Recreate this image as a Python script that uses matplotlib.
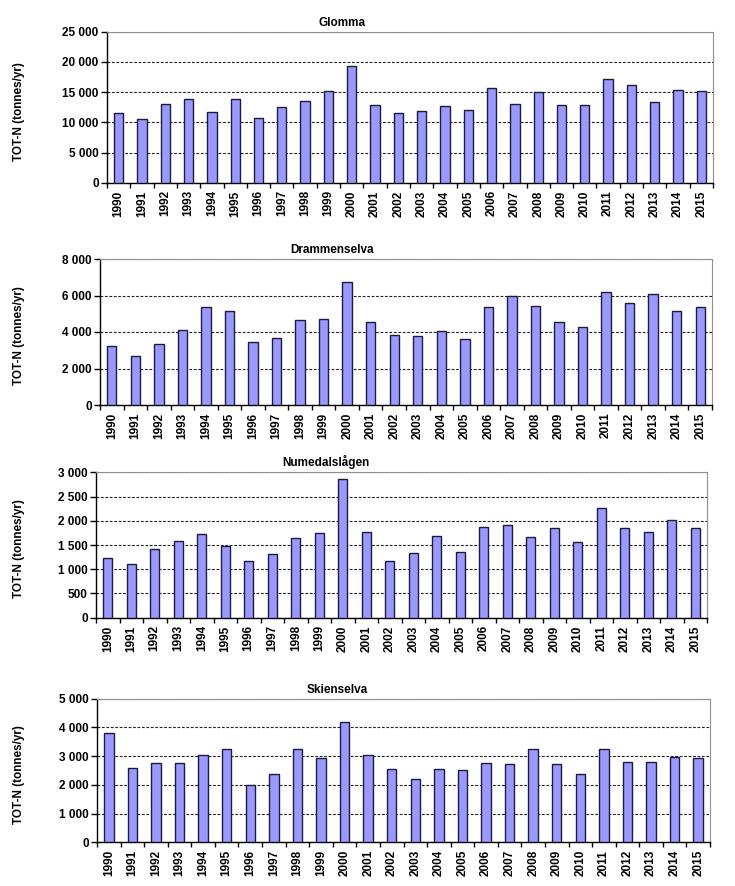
import numpy as np
import matplotlib
matplotlib.use("Agg")
import matplotlib.pyplot as plt
from matplotlib.ticker import FuncFormatter, MultipleLocator

plt.rcParams['font.family'] = ['Liberation Sans', 'DejaVu Sans']

years = [str(y) for y in range(1990, 2016)]

glomma = [11480, 10490, 12970, 13850, 11640, 13850, 10650, 12530, 13580, 15120,
          19320, 12800, 11480, 11810, 12690, 11980, 15620, 12970, 15070, 12800,
          12800, 17110, 16110, 13300, 15340, 15230]
drammen = [3210, 2670, 3360, 4090, 5370, 5130, 3450, 3650, 4640, 4730,
           6740, 4530, 3850, 3760, 4040, 3600, 5370, 5990, 5410, 4530,
           4290, 6210, 5570, 6100, 5130, 5370]
numedal = [1239, 1101, 1418, 1583, 1721, 1473, 1163, 1308, 1638, 1748,
           2856, 1769, 1163, 1328, 1693, 1363, 1879, 1906, 1672, 1858,
           1562, 2264, 1844, 1769, 2010, 1844]
skien = [3817, 2587, 2749, 2749, 3028, 3248, 2007, 2367, 3248, 2935,
         4176, 3028, 2564, 2193, 2541, 2517, 2749, 2715, 3248, 2715,
         2367, 3248, 2784, 2784, 2958, 2923]

titles = ["Glomma", "Drammenselva", "Numedalslågen", "Skienselva"]
series = [glomma, drammen, numedal, skien]
ymax = [25000, 8000, 3000, 5000]
ystep = [5000, 2000, 500, 1000]

# axes boxes in pixels: left, top, right, bottom ; title x in pixels
W, H = 735, 886
boxes = [(107, 31.7, 713, 182.7),
         (100, 259, 712, 405),
         (96, 472.3, 707, 617.7),
         (97, 698.7, 710, 842.3)]
title_x = [342, 332, 326, 337]

fmt = FuncFormatter(lambda v, p: f"{int(v):,}".replace(",", " "))

fig = plt.figure(figsize=(W / 100, H / 100), dpi=100)

for i in range(4):
    l, t, r, b = boxes[i]
    ax = fig.add_axes([l / W, 1 - b / H, (r - l) / W, (b - t) / H])
    x = np.arange(len(years))
    ax.bar(x, series[i], width=0.4, color='#9999ff', edgecolor='#1c1c3a',
           linewidth=1.0, zorder=3)
    ax.set_xlim(-0.5, len(years) - 0.5)
    ax.set_ylim(0, ymax[i])
    ax.yaxis.set_major_locator(MultipleLocator(ystep[i]))
    ax.yaxis.set_major_formatter(fmt)
    ax.grid(axis='y', color='#222222', linestyle=(0, (2.5, 1.5)), linewidth=0.8, zorder=1)

    ax.set_xticks(x)
    ax.set_xticklabels(years, rotation=90, fontweight='bold', fontsize=8.5)
    ax.set_xticks(np.arange(-0.5, len(years)), minor=True)
    ax.tick_params(axis='x', which='major', length=0, pad=5.5)
    ax.tick_params(axis='x', which='minor', length=3.5, width=1, color='black')
    ax.tick_params(axis='y', length=4, width=1, pad=2, labelsize=8.5)
    for lab in ax.get_yticklabels():
        lab.set_fontweight('bold')

    ax.spines['left'].set_color('black')
    ax.spines['bottom'].set_color('black')
    ax.spines['left'].set_linewidth(1)
    ax.spines['bottom'].set_linewidth(1)
    ax.spines['top'].set_color('#909090')
    ax.spines['right'].set_color('#909090')

    ax.text((title_x[i] - l) / (r - l), 1.0 + 3 / (b - t), titles[i],
            transform=ax.transAxes, ha='center', va='bottom',
            fontsize=8.5, fontweight='bold')

    fig.text(19 / W, 1 - ((t + b) / 2 + 4) / H, "TOT-N (tonnes/yr)",
             rotation=90, ha='center', va='center', fontsize=8.5, fontweight='bold')

fig.savefig("out.png", dpi=100)
